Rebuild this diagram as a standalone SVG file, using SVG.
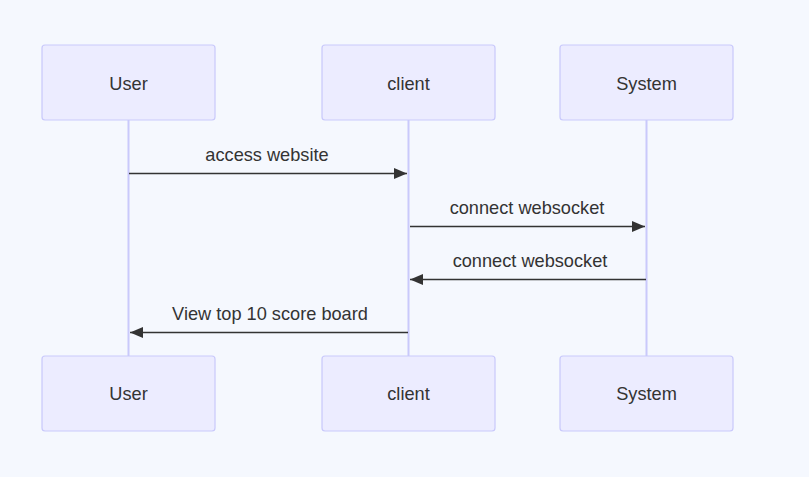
<svg xmlns="http://www.w3.org/2000/svg" width="809" height="477" viewBox="0 0 809 477">
<defs>
<style>
.actor{fill:#ececff;stroke:#c9c9fb;stroke-width:1.2}
.atext{font-family:"Liberation Sans",Arial,sans-serif;font-size:18.2px;fill:#333;text-anchor:middle;dominant-baseline:central}
.life{stroke:#c9c9fb;stroke-width:2}
.msg{stroke:#333;stroke-width:1.5;fill:none}
.mtext{font-family:"Liberation Sans",Arial,sans-serif;font-size:18.2px;fill:#333;text-anchor:middle}
</style>
<marker id="arrow" viewBox="0 0 13 11" refX="13" refY="5.5" markerWidth="13" markerHeight="11" markerUnits="userSpaceOnUse" orient="auto">
<path d="M0,0 L13,5.5 L0,11 z" fill="#333"/>
</marker>
</defs>
<rect width="809" height="477" fill="#f5f8fe"/>
<g id="lifelines">
<line class="life" x1="128.5" y1="120" x2="128.5" y2="356"/>
<line class="life" x1="408.5" y1="120" x2="408.5" y2="356"/>
<line class="life" x1="646.5" y1="120" x2="646.5" y2="356"/>
</g>
<g id="user-top"><rect class="actor" x="42" y="45" width="173" height="75" rx="3"/><text class="atext" x="128.5" y="84">User</text></g>
<g id="client-top"><rect class="actor" x="322" y="45" width="173" height="75" rx="3"/><text class="atext" x="408.5" y="84">client</text></g>
<g id="system-top"><rect class="actor" x="560" y="45" width="173" height="75" rx="3"/><text class="atext" x="646.5" y="84">System</text></g>
<g id="user-bottom"><rect class="actor" x="42" y="356" width="173" height="75" rx="3"/><text class="atext" x="128.5" y="394">User</text></g>
<g id="client-bottom"><rect class="actor" x="322" y="356" width="173" height="75" rx="3"/><text class="atext" x="408.5" y="394">client</text></g>
<g id="system-bottom"><rect class="actor" x="560" y="356" width="173" height="75" rx="3"/><text class="atext" x="646.5" y="394">System</text></g>
<g id="connectors">
<line class="msg" x1="129" y1="173.5" x2="407" y2="173.5" marker-end="url(#arrow)"/>
<text class="mtext" x="267" y="161">access website</text>
<line class="msg" x1="410" y1="226.5" x2="645" y2="226.5" marker-end="url(#arrow)"/>
<text class="mtext" x="527" y="214">connect websocket</text>
<line class="msg" x1="646" y1="279.5" x2="410" y2="279.5" marker-end="url(#arrow)"/>
<text class="mtext" x="530" y="267">connect websocket</text>
<line class="msg" x1="408" y1="332.5" x2="130" y2="332.5" marker-end="url(#arrow)"/>
<text class="mtext" x="270" y="320">View top 10 score board</text>
</g>
</svg>
